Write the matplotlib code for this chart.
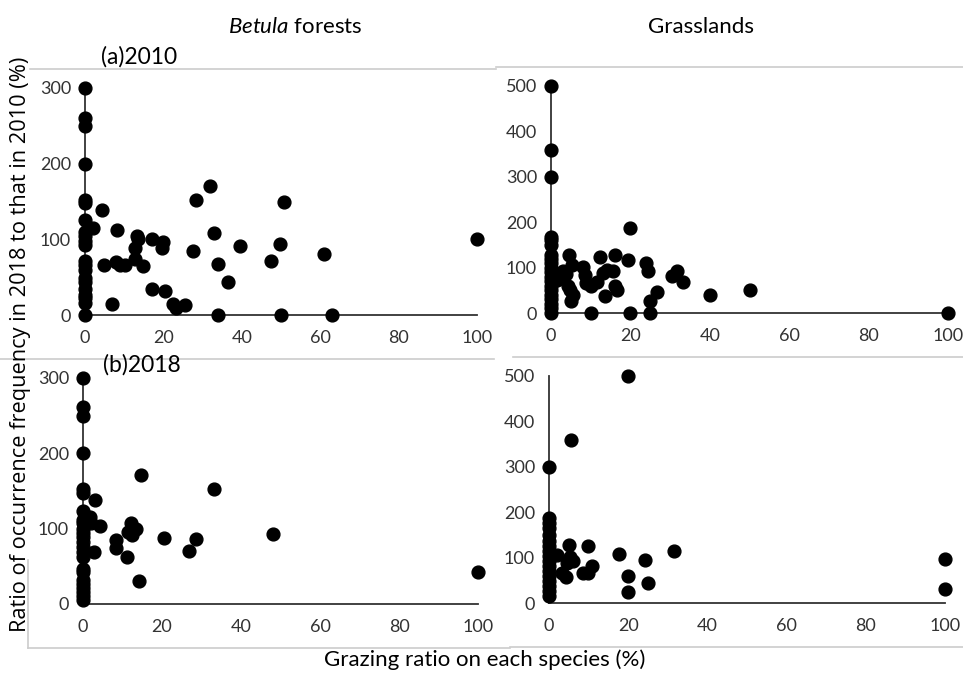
import matplotlib
matplotlib.use("Agg")
import matplotlib.pyplot as plt
from matplotlib.lines import Line2D

# 1. Data (x = grazing ratio %, y = ratio 2018/2010 %)

# (a) 2010, Betula forests
betula_2010_zero_y = [300, 260, 250, 200, 152, 148, 125, 110, 104, 98, 92, 71, 66,
                      60, 49, 44, 34, 27, 22, 16, 0]
betula_2010_x = [4.4, 2, 8.2, 4.8, 6.9, 7.9, 8.9, 10.3, 13.2, 13.4, 12.8, 12.8, 14.7,
                 17, 19.8, 19.6, 17, 20.3, 22.5, 23.2, 25.4, 27.6, 28.4, 31.8, 32.9,
                 33.9, 36.4, 33.9, 39.6, 47.4, 49.7, 50.8, 50, 60.9, 63, 100]
betula_2010_y = [139, 115, 112, 66, 14, 70, 66, 66, 104, 100, 88, 74, 65,
                 100, 96, 89, 34, 32, 15, 9, 13, 85, 152, 171, 108,
                 67, 44, 0, 91, 71, 94, 150, 0, 81, 0, 100]

# (a) 2010, Grasslands
grass_2010_zero_y = [500, 360, 300, 168, 160, 150, 128, 120, 110, 100, 90, 80, 70,
                     60, 50, 40, 30, 20, 10, 0]
grass_2010_x = [4.5, 5.2, 2.9, 3.9, 1.6, 4.4, 4.8, 5.5, 5, 8, 8.6, 8.8, 10, 11.7,
                12.4, 13.2, 14.2, 15.5, 16.1, 16.1, 16.7, 13.6, 19.9, 19.5, 23.9,
                24.5, 26.8, 25, 30.4, 31.7, 33.2, 40, 50, 10, 20, 25, 100]
grass_2010_y = [128, 106, 92, 86, 73, 60, 51, 40, 27, 102, 84, 66, 59, 69,
                124, 88, 95, 92, 128, 60, 50, 37, 187, 116, 110,
                93, 46, 26, 81, 92, 68, 40, 50, 0, 0, 0, 0]

# (b) 2018, Betula forests
betula_2018_zero_y = [300, 261, 250, 200, 152, 148, 124, 112, 107, 100, 94, 89, 82,
                      76, 69, 62, 47, 43, 32, 27, 21, 16, 11, 5]
betula_2018_x = [3.1, 1.7, 1.9, 4.2, 2.7, 8.3, 8.4, 11.2, 11.4, 12.2, 12.5, 13.5,
                 14.2, 14.8, 20.5, 26.8, 28.7, 33.1, 48.1, 100]
betula_2018_y = [138, 116, 107, 104, 69, 85, 75, 63, 95, 107, 92, 99,
                 31, 171, 88, 70, 86, 152, 93, 42]

# (b) 2018, Grasslands
grass_2018_zero_y = [300, 187, 176, 165, 150, 136, 125, 114, 103, 92, 81, 70, 59,
                     48, 37, 26, 15]
grass_2018_x = [19.9, 5.6, 2.1, 5.1, 5.3, 6.1, 4.5, 3.2, 4.3, 8.7, 9.9, 10.8, 9.9,
                17.8, 20, 20, 24.2, 25.1, 31.6, 100, 100]
grass_2018_y = [500, 359, 106, 128, 101, 92, 88, 67, 57, 67, 125, 82, 65,
                108, 60, 24, 94, 43, 115, 97, 31]

x_ticks = [0, 20, 40, 60, 80, 100]
betula_yticks = [0, 100, 200, 300]
grass_yticks = [0, 100, 200, 300, 400, 500]


# 2. Figure setup
W, H = 963, 674
plt.rcParams["font.family"] = ["Lato", "DejaVu Sans"]
plt.rcParams["mathtext.fontset"] = "custom"
plt.rcParams["mathtext.rm"] = "Lato"
plt.rcParams["mathtext.it"] = "Lato:italic"

fig = plt.figure(figsize=(W / 100, H / 100), dpi=100)


def px_rect(left, right, top, bottom):
    return [left / W, 1 - bottom / H, (right - left) / W, (bottom - top) / H]


# faint gray chart-area borders (mostly only the horizontal edges show)
frame_lines = [((30, 496), (69, 69)), ((496, 963), (67, 67)),
               ((0, 494), (359, 359)), ((513, 963), (357, 357)),
               ((28, 510), (648, 648)), ((510, 963), (647, 647)),
               ((28, 28), (560, 648))]
for xs_px, ys_px in frame_lines:
    fig.add_artist(Line2D([x / W for x in xs_px], [1 - y / H for y in ys_px],
                          transform=fig.transFigure, color="#cccccc", lw=1.2))


def panel(rect, zero_y, xs, ys, yticks):
    ax = fig.add_axes(rect)
    ax.scatter([0] * len(zero_y), zero_y, s=85, color="black", clip_on=False, zorder=3)
    ax.scatter(xs, ys, s=85, color="black", clip_on=False, zorder=3)
    ax.set_xlim(0, 100)
    ax.set_ylim(0, yticks[-1])
    ax.set_xticks(x_ticks)
    ax.set_yticks(yticks)
    for side in ["top", "right"]:
        ax.spines[side].set_visible(False)
    for side in ["left", "bottom"]:
        ax.spines[side].set_color("#333333")
        ax.spines[side].set_linewidth(1.3)
    ax.tick_params(axis="x", length=0, pad=11, labelsize=13, colors="#333333")
    ax.tick_params(axis="y", length=0, pad=10, labelsize=13, colors="#333333")
    ax.set_facecolor("none")
    return ax


panel(px_rect(85, 477, 88, 315), betula_2010_zero_y, betula_2010_x, betula_2010_y, betula_yticks)
panel(px_rect(551, 948, 86, 313), grass_2010_zero_y, grass_2010_x, grass_2010_y, grass_yticks)
panel(px_rect(83, 478, 378, 604), betula_2018_zero_y, betula_2018_x, betula_2018_y, betula_yticks)
panel(px_rect(549, 945, 376, 603), grass_2018_zero_y, grass_2018_x, grass_2018_y, grass_yticks)


# 3. Titles and labels
fig.text(295 / W, 1 - 27 / H, r"$\it{Betula}$ forests", ha="center", va="center", fontsize=16)
fig.text(701 / W, 1 - 27 / H, "Grasslands", ha="center", va="center", fontsize=16)
fig.text(101 / W, 1 - 57 / H, "(a)2010", ha="left", va="center", fontsize=16.5)
fig.text(103 / W, 1 - 365 / H, "(b)2018", ha="left", va="center", fontsize=16.5)
fig.text(21 / W, 1 - 344 / H, "Ratio of occurrence frequency in 2018 to that in 2010 (%)",
         rotation=90, ha="center", va="center", fontsize=15.7, family=["Open Sans", "DejaVu Sans"])
fig.text(485 / W, 1 - 660 / H, "Grazing ratio on each species (%)",
         ha="center", va="center", fontsize=16)

plt.savefig("out.png", dpi=100)
